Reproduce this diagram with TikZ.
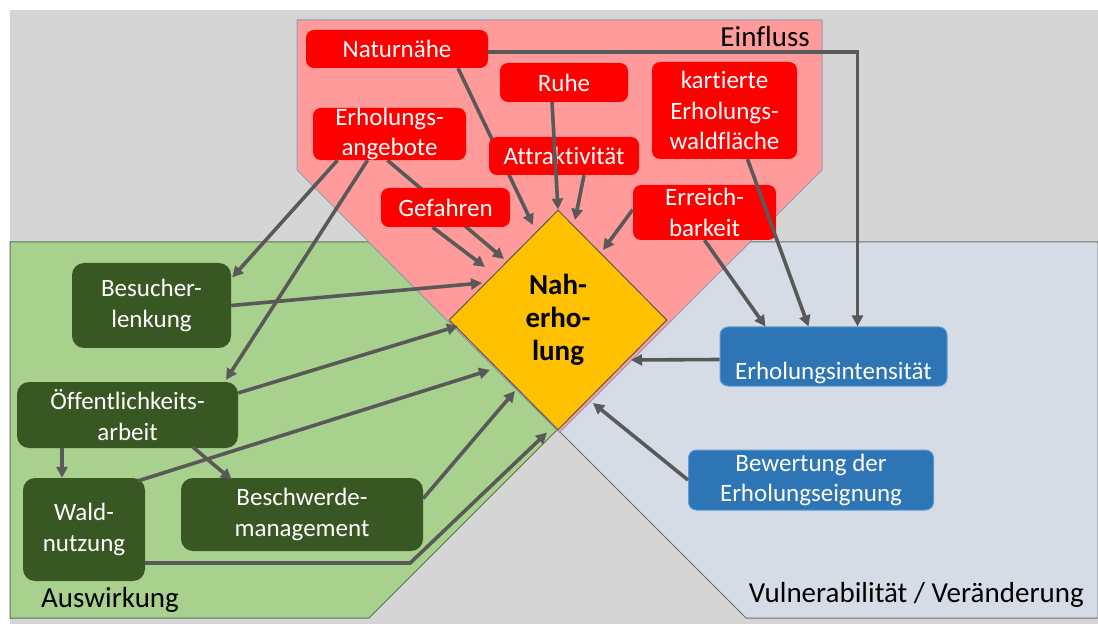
\documentclass[tikz,border=0pt]{standalone}
\usepackage{fontspec}
\setmainfont[Ligatures=NoCommon]{Carlito}
\usetikzlibrary{arrows.meta,shapes.geometric,calc}
\pgfdeclarelayer{regions}
\pgfdeclarelayer{behind}
\pgfsetlayers{regions,behind,main}
\definecolor{bggrey}{HTML}{D5D5D5}
\definecolor{pinkbg}{HTML}{FF9B9B}
\definecolor{pinkline}{HTML}{8C9DBA}
\definecolor{greenbg}{HTML}{A9D18E}
\definecolor{greenline}{HTML}{5E6E55}
\definecolor{bluebg}{HTML}{D6DCE5}
\definecolor{blueline}{HTML}{6F6F6F}
\definecolor{boxred}{HTML}{FF0000}
\definecolor{boxgreen}{HTML}{385723}
\definecolor{boxblue}{HTML}{2E75B6}
\definecolor{boxblueline}{HTML}{5B9BD5}
\definecolor{diayellow}{HTML}{FFC000}
\definecolor{arrowgrey}{HTML}{595959}
\begin{document}
\begin{tikzpicture}[x=1pt,y=-1pt,
  boxtext/.style={inner sep=0pt, align=center, text=white, font=\fontsize{25}{30.5}\selectfont},
  redbox/.style={boxtext, rectangle, rounded corners=8pt, fill=boxred},
  greenbox/.style={boxtext, rectangle, rounded corners=12pt, fill=boxgreen},
  bluebox/.style={boxtext, rectangle, rounded corners=8pt, fill=boxblue, draw=boxblueline, line width=1pt},
  regionlabel/.style={inner sep=0pt, text=black, font=\fontsize{29}{35}\selectfont},
  conn/.style={draw=arrowgrey, line width=3.6pt, -{Triangle[length=11pt,width=11pt]}}
]
\useasboundingbox (0,0) rectangle (1098,628);

\begin{pgfonlayer}{regions}
% background
\fill[bggrey] (10,10) rectangle (1098,624);
% regions
\draw[draw=greenline, line width=1pt, fill=greenbg] (10,242) -- (369,242) -- (557,430) -- (369,618) -- (10,618) -- cycle;
\draw[draw=blueline, line width=1pt, fill=bluebg] (750,242) -- (1098,242) -- (1098,618) -- (746,618) -- (558,430) -- cycle;
\draw[draw=pinkline, line width=1pt, fill=pinkbg] (297,20) -- (822,20) -- (822,170) -- (559.5,432.5) -- (297,170) -- cycle;
\end{pgfonlayer}

% region labels
\node[regionlabel, anchor=base east] (einfluss) at (810,47) {Einfluss};
\node[regionlabel, anchor=base west] (auswirkung) at (41,607) {Auswirkung};
\node[regionlabel, anchor=base east] (vulner) at (1084,602) {Vulnerabilität / Veränderung};

% central diamond
\node[diamond, draw=arrowgrey, line width=1pt, fill=diayellow, minimum width=218pt, minimum height=220pt, inner sep=0pt, align=center, font=\fontsize{29}{33}\selectfont\bfseries] (dia) at (558,320) {Nah-\\erho-\\lung};

% red boxes
\node[redbox, minimum width=182pt, minimum height=38pt] (natur) at (397,49) {Naturnähe};
\node[redbox, minimum width=128pt, minimum height=39pt] (ruhe) at (564,82.5) {Ruhe};
\node[redbox, minimum width=145pt, minimum height=97pt] (kart) at (724.5,110.5) {kartierte\\Erholungs-\\waldfläche};
\node[redbox, minimum width=153pt, minimum height=52pt] (erhang) at (389.5,134) {Erholungs-\\angebote};
\node[redbox, minimum width=150pt, minimum height=38pt] (attr) at (564,156) {Attraktivität};
\node[redbox, minimum width=129pt, minimum height=39pt] (gef) at (445.5,207.5) {Gefahren};
\node[redbox, minimum width=143pt, minimum height=55pt] (erreich) at (704.5,212.5) {Erreich-\\barkeit};

% green boxes
\node[greenbox, minimum width=159pt, minimum height=85pt] (besu) at (151.5,305.5) {Besucher-\\lenkung};
\node[greenbox, minimum width=221pt, minimum height=66pt] (oeff) at (127.5,415) {Öffentlichkeits-\\arbeit};
\node[greenbox, minimum width=122pt, minimum height=103pt] (wald) at (84,529.5) {Wald-\\nutzung};
\node[greenbox, minimum width=242pt, minimum height=73pt] (besch) at (302,514.5) {Beschwerde-\\management};

% blue boxes
\node[bluebox, minimum width=227pt, text height=52pt, text depth=7pt] (eint) at (833.5,356.5) {Erholungsintensität};
\node[bluebox, minimum width=245pt, minimum height=60pt] (bew) at (811,480) {Bewertung der\\Erholungseignung};

% connectors passing behind boxes
\begin{pgfonlayer}{behind}
\draw[conn] ($(natur.south)+(61,0)$) -- ($(dia.center)+(-25,-95)$);
\draw[conn] ($(erhang.south)+(-2,0)$) -- ($(dia.center)+(-54,-61)$);
\end{pgfonlayer}

% connectors in the upper part
\draw[conn] ($(natur.east)+(0,3)$) -| ($(eint.north)+(24,0)$);
\draw[conn] ($(ruhe.south)+(-12,0)$) -- (dia.north);
\draw[conn] ($(attr.south)+(20,0)$) -- ($(dia.center)+(17,-100)$);
\draw[conn] ($(gef.south)+(-13,0)$) -- ($(dia.center)+(-73,-53)$);
\draw[conn] ($(erreich.west)+(0,-3)$) -- ($(dia.center)+(45,-70)$);
\draw[conn] (erreich.south) -- ($(eint.north)+(-68,0)$);
\draw[conn] ($(kart.south)+(23,0)$) -- ($(eint.north)+(-25,0)$);

% blue side
\draw[conn] ($(eint.west)+(0,3)$) -- ($(dia.center)+(73,40)$);
\draw[conn] (bew.west) -- ($(dia.center)+(35,83)$);

% green side
\draw[conn] ($(erhang.south)+(-52,0)$) -- ($(besu.east)+(1,-28)$);
\draw[conn] ($(erhang.south)+(-22,0)$) -- ($(oeff.north)+(98.5,-2)$);
\draw[conn] (besu.east) -- ($(dia.center)+(-76,-37)$);
\draw[conn] ($(oeff.east)+(0,-22)$) -- ($(dia.center)+(-100,6)$);
\draw[conn] ($(wald.north east)+(-7,3)$) -- ($(dia.center)+(-68,50)$);
\draw[conn] ($(besch.east)+(0,-16)$) -- ($(dia.center)+(-43,71)$);
\draw[conn] ($(wald.east)+(0,33.5)$) -- ++(265,0) -- ($(dia.south)+(-11,2)$);
\draw[conn] ($(oeff.south)+(-65.5,0)$) -- ($(wald.north)+(-22,0)$);
\draw[conn] ($(oeff.south)+(65.5,-1)$) -- ($(besch.north west)+(51,2)$);
\end{tikzpicture}
\end{document}
